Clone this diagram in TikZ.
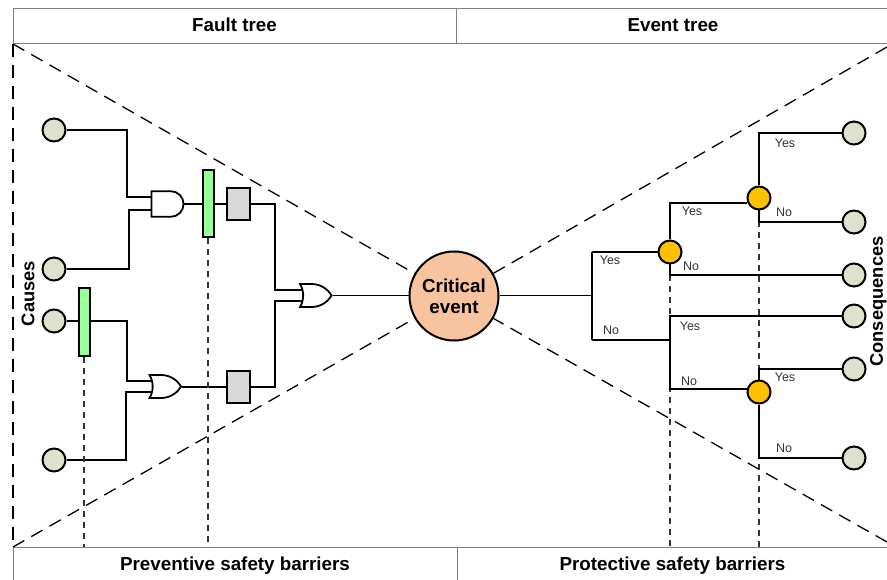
\documentclass[tikz,border=0pt]{standalone}
\usepackage{fontspec}
\setmainfont{Liberation Sans}
\usetikzlibrary{shapes.gates.logic.US}
\definecolor{causefill}{HTML}{DDE2CC}
\definecolor{barrierfill}{HTML}{99FF99}
\definecolor{blockfill}{HTML}{D9D9D9}
\definecolor{pivotfill}{HTML}{FFC000}
\definecolor{eventfill}{HTML}{F8C4A0}
\tikzset{
  bandbox/.style={rectangle,draw=gray,line width=1pt,inner sep=0pt,text height=14pt,text depth=3pt,font=\fontsize{18.8}{21}\selectfont\bfseries},
  endpoint/.style={circle,draw,line width=2pt,fill=causefill,minimum size=23pt,inner sep=0pt},
  pivot/.style={circle,draw,line width=2pt,fill=pivotfill,minimum size=23pt,inner sep=0pt},
  barrierbar/.style={rectangle,draw,line width=2pt,fill=barrierfill,minimum width=11pt,minimum height=67pt,inner sep=0pt},
  blockbox/.style={rectangle,draw,line width=2pt,fill=blockfill,minimum width=23pt,minimum height=32pt,inner sep=0pt},
  andgate/.style={and gate US,draw,line width=1.8pt,logic gate inputs=nn,minimum width=32pt,minimum height=25pt,inner sep=0pt},
  orgate/.style={or gate US,draw,line width=1.8pt,logic gate inputs=nn,minimum width=29pt,minimum height=23pt,inner sep=0pt},
  wire/.style={line width=2pt,line join=miter},
  thinwire/.style={line width=1pt},
  wedge/.style={line width=1.3pt,dash pattern=on 13pt off 8pt},
  droplink/.style={line width=1.1pt,dash pattern=on 6pt off 5pt,draw=black!80},
  branch/.style={font=\fontsize{12.5}{14}\selectfont,text=black!80},
  sidelabel/.style={rotate=90,font=\fontsize{18.3}{21}\selectfont\bfseries}
}
\begin{document}
\begin{tikzpicture}[x=1pt,y=-1pt]
  \useasboundingbox (0,0) rectangle (887,580);

  % bands
  \node[bandbox,minimum width=443pt,minimum height=35pt] (faulttree) at (234.5,26.5) {Fault tree};
  \node[bandbox,minimum width=434pt,minimum height=35pt] (eventtree) at (673,26.5) {Event tree};
  \node[bandbox,minimum width=444pt,minimum height=35pt] (preventive) at (235,564.5) {Preventive safety barriers};
  \node[bandbox,minimum width=431pt,minimum height=35pt] (protective) at (672.5,564.5) {Protective safety barriers};

  \node[sidelabel] (causes) at (28,293.5) {Causes};
  \node[sidelabel] (consequences) at (878.3,301.5) {Consequences};

  \coordinate (topleft) at (13,44);
  \coordinate (bottomleft) at (13,547);
  \coordinate (topright) at (887,47);
  \coordinate (bottomright) at (887,542);

  \node[circle,draw,line width=2pt,fill=eventfill,minimum size=89pt,inner sep=0pt,align=center,
        font=\fontsize{18.8}{21}\selectfont\bfseries] (critical) at (454,296) {Critical\\event};

  \draw[wedge] (topleft) -- (bottomleft);
  \draw[wedge] (topleft) -- (critical);
  \draw[wedge] (bottomleft) -- (critical);
  \draw[wedge] (topright) -- (critical);
  \draw[wedge] (bottomright) -- (critical);

  % fault tree
  \node[endpoint] (causea) at (54,130) {};
  \node[endpoint] (causeb) at (54,269) {};
  \node[endpoint] (causec) at (54,321) {};
  \node[endpoint] (caused) at (54,460) {};

  \node[andgate] (andgate) at (166.5,204) {};
  \node[orgate] (orlow) at (163,386.5) {};
  \node[orgate] (ortop) at (313.5,295.5) {};

  \node[barrierbar] (barriertop) at (208,204) {};
  \node[barrierbar] (barrierlow) at (84,322) {};
  \node[blockbox] (blocktop) at (238,204) {};
  \node[blockbox] (blocklow) at (238,386.5) {};

  \draw[wire] (causea.east) -- ++(60,0) |- (andgate.input 1 |- 0,197);
  \draw[wire] (causeb.east) -- ++(62,0) |- (andgate.input 2 |- 0,210);
  \draw[wire] (causec.east) -- (barrierlow.west |- causec);
  \draw[wire] (barrierlow.east |- causec) -- ++(36,0) |- (orlow.input 1 |- 0,381);
  \draw[wire] (caused.east) -- ++(59,0) |- (orlow.input 2 |- 0,392);
  \draw[wire] (andgate.output) -- (barriertop.west);
  \draw[wire] (barriertop.east) -- (blocktop.west);
  \draw[wire] (orlow.output) -- (blocklow.west);
  \draw[wire] (blocktop.east) -- ++(24,0) |- (ortop.input 1 |- 0,290);
  \draw[wire] (blocklow.east) -- ++(24,0) |- (ortop.input 2 |- 0,301);
  \draw[thinwire] (ortop.output) -- (critical.west |- ortop.output);

  \coordinate (barriertopfoot) at (barriertop |- preventive.north);
  \coordinate (barrierlowfoot) at (barrierlow |- preventive.north);
  \draw[droplink] (barriertop.south) -- (barriertopfoot);
  \draw[droplink] (barrierlow.south) -- (barrierlowfoot);

  % event tree
  \node[endpoint] (consa) at (854,133) {};
  \node[endpoint] (consb) at (854,222) {};
  \node[endpoint] (consc) at (854,275) {};
  \node[endpoint] (consd) at (854,316) {};
  \node[endpoint] (conse) at (854,369) {};
  \node[endpoint] (consf) at (854,458) {};

  \coordinate (fork) at (592,295.5);
  \coordinate (forkyes) at (592,252);
  \coordinate (forkno) at (592,340);
  \coordinate (lowerstem) at (670,340);

  \node[pivot] (pivota) at (670,252) {};
  \node[pivot] (pivotb) at (759,198) {};

  \coordinate (pivotafoot) at (pivota |- protective.north);
  \coordinate (pivotbfoot) at (pivotb |- protective.north);
  \draw[droplink] (pivota.south) -- (pivotafoot);
  \draw[droplink] (pivotb.south) -- (pivotbfoot);

  \node[pivot] (pivotc) at (759,392) {};

  \draw[thinwire] (critical.east |- fork) -- (fork);
  \draw[wire] (forkyes) -- (forkno);
  \draw[wire] (forkyes) -- (pivota.west);
  \draw[wire] (forkno) -- (lowerstem);
  \draw[wire] (pivota.north) |- (pivotb.west |- 0,203);
  \draw[wire] (pivotb.north) |- (consa.west);
  \draw[wire] (pivotb.south) |- (consb.west);
  \draw[wire] (pivota.south) |- (consc.west);
  \draw[wire] (lowerstem) |- (consd.west);
  \draw[wire] (lowerstem) |- (pivotc.west |- 0,389);
  \draw[wire] (pivotc.north) |- (conse.west);
  \draw[wire] (pivotc.south) |- (consf.west);

  \node[branch] (yesa) at (785,143) {Yes};
  \node[branch] (noa) at (784,212) {No};
  \node[branch] (yesb) at (692,211) {Yes};
  \node[branch] (nob) at (691,266) {No};
  \node[branch] (yesc) at (610,260) {Yes};
  \node[branch] (noc) at (611,330) {No};
  \node[branch] (yesd) at (690,326) {Yes};
  \node[branch] (nod) at (689,381) {No};
  \node[branch] (yese) at (785,377) {Yes};
  \node[branch] (noe) at (784,448) {No};
\end{tikzpicture}
\end{document}
